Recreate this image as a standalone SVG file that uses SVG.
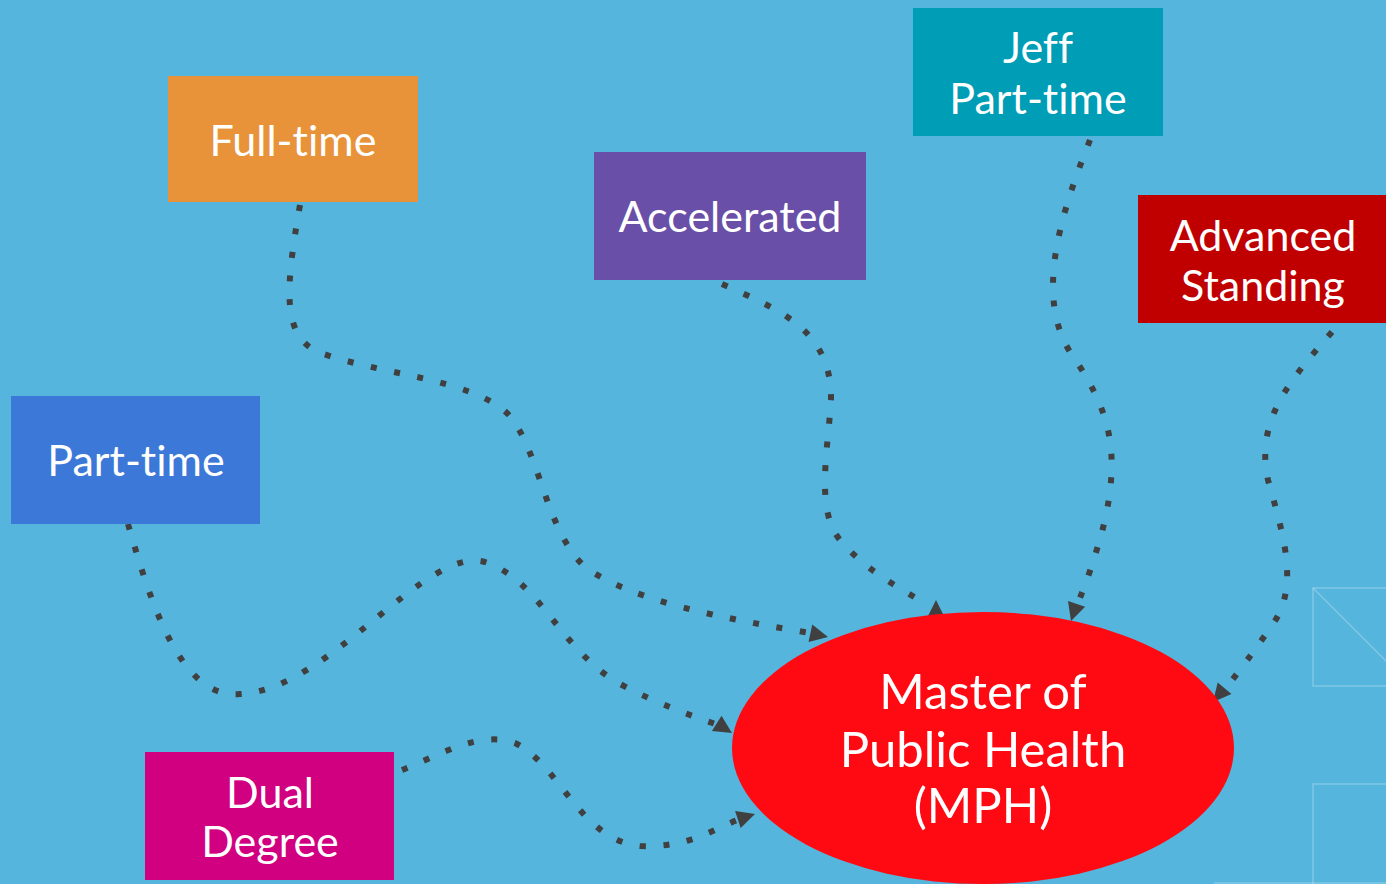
<svg xmlns="http://www.w3.org/2000/svg" width="1386" height="884" viewBox="0 0 1386 884">
<style>
.bg{fill:#56B5DC}
.lbl{font-family:Lato,"Open Sans","DejaVu Sans",sans-serif;font-size:43px;fill:#FFFFFF;text-anchor:middle;font-variant-ligatures:none;font-feature-settings:"liga" 0}
.big{font-size:49px}
.con{fill:none;stroke:#404040;stroke-width:6;stroke-dasharray:6 17.7}
.head{fill:#404040}
.deco{fill:none;stroke:#FFFFFF;stroke-opacity:0.25;stroke-width:1.5}
</style>
<defs>
<path id="tri" d="M0,0 L-18,-9 L-18,9 Z"/>
</defs>
<rect class="bg" x="0" y="0" width="1386" height="884"/>
<g id="decor">
<rect class="deco" x="1313" y="588" width="90" height="98"/>
<line class="deco" x1="1313" y1="588" x2="1386" y2="661"/>
<rect class="deco" x="1313" y="784" width="90" height="140"/>
<line class="deco" x1="1214" y1="883" x2="1386" y2="883"/>
</g>
<g id="connectors">
<path class="con" d="M300,205 C285,290 282,335 318,352 C380,375 470,378 508,414 C540,450 545,530 585,567 C630,600 720,618 810,633"/>
<path class="con" d="M128,524 C150,600 180,700 240,694 C330,690 425,545 485,562 C540,580 560,650 620,684 C660,705 690,715 718,725"/>
<path class="con" d="M402,770 C440,755 480,730 515,743 C560,765 580,840 640,846 C690,848 715,828 740,819"/>
<path class="con" d="M722,284 C780,310 832,330 831,400 C828,450 815,510 840,540 C870,575 905,590 925,604"/>
<path class="con" d="M1090,140 C1058,220 1035,300 1072,355 C1110,410 1120,450 1105,520 C1095,560 1085,585 1078,603"/>
<path class="con" d="M1332,332 C1290,380 1255,420 1268,480 C1285,540 1300,590 1270,628 C1255,650 1240,670 1226,688"/>
<use href="#tri" class="head" transform="translate(828,637) rotate(12)"/>
<use href="#tri" class="head" transform="translate(732,733) rotate(32)"/>
<use href="#tri" class="head" transform="translate(755,814) rotate(-18)"/>
<use href="#tri" class="head" transform="translate(936,600) rotate(-90)"/>
<use href="#tri" class="head" transform="translate(1071,621) rotate(108)"/>
<use href="#tri" class="head" transform="translate(1213,702) rotate(130)"/>
</g>
<g id="fulltime">
<rect x="168" y="76" width="250" height="126" fill="#E8933A"/>
<text class="lbl" x="293" y="156">Full-time</text>
</g>
<g id="accelerated">
<rect x="594" y="152" width="272" height="128" fill="#6A4FA8"/>
<text class="lbl" x="730" y="232">Accelerated</text>
</g>
<g id="jeff">
<rect x="913" y="8" width="250" height="128" fill="#009DB6"/>
<text class="lbl" x="1038" y="63">Jeff</text>
<text class="lbl" x="1038" y="114">Part-time</text>
</g>
<g id="advanced">
<rect x="1138" y="195" width="248" height="128" fill="#C00000"/>
<text class="lbl" x="1263" y="251">Advanced</text>
<text class="lbl" x="1263" y="301">Standing</text>
</g>
<g id="parttime">
<rect x="11" y="396" width="249" height="128" fill="#3C78D8"/>
<text class="lbl" x="136" y="476">Part-time</text>
</g>
<g id="dual">
<rect x="145" y="752" width="249" height="128" fill="#D10080"/>
<text class="lbl" x="270" y="808">Dual</text>
<text class="lbl" x="270" y="857">Degree</text>
</g>
<g id="mph">
<ellipse cx="983" cy="748" rx="251" ry="136" fill="#FF0A12"/>
<text class="lbl big" x="983" y="709">Master of</text>
<text class="lbl big" x="983" y="767">Public Health</text>
<text class="lbl big" x="983" y="823">(MPH)</text>
</g>
</svg>
